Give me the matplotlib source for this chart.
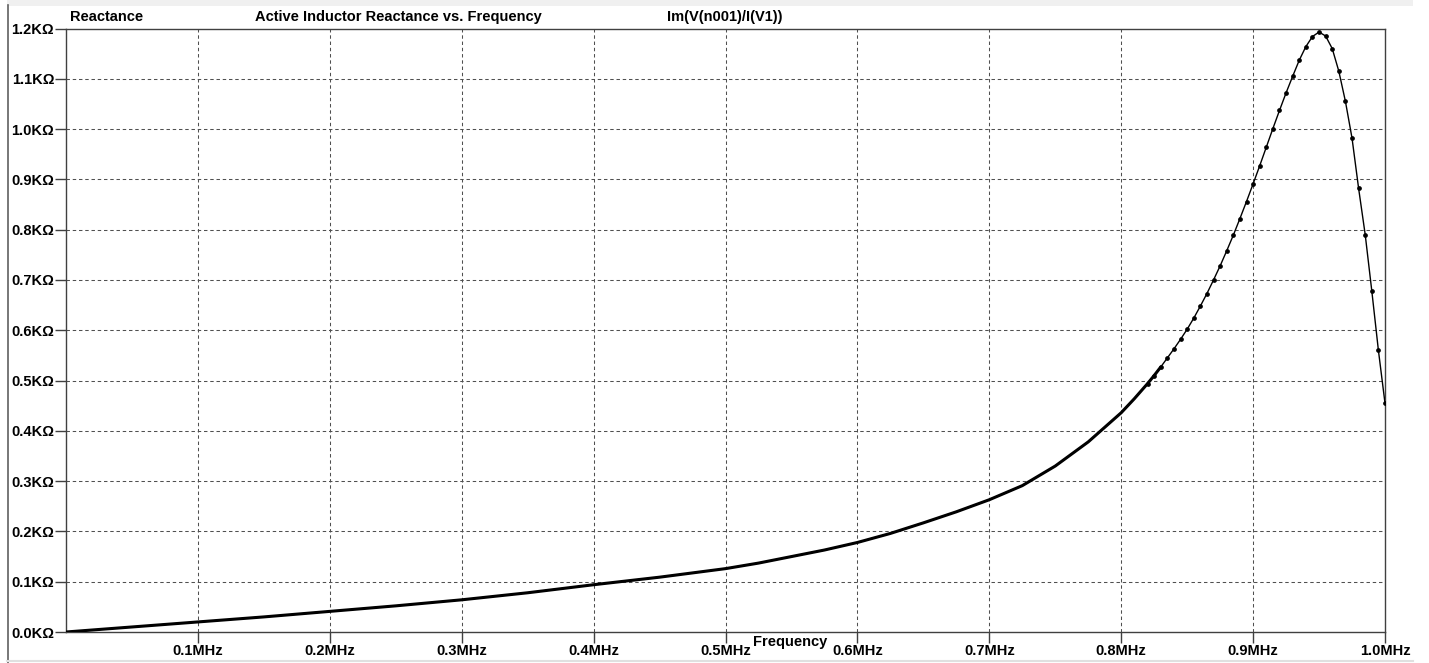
import matplotlib
matplotlib.use("Agg")
import matplotlib.pyplot as plt
from matplotlib.lines import Line2D
from matplotlib.patches import Rectangle
from matplotlib.ticker import FixedLocator, FixedFormatter

# ---- data ----
freq_mhz = [0.0, 0.05, 0.10, 0.15, 0.20, 0.25, 0.30, 0.35, 0.40, 0.45,
            0.50, 0.525, 0.55, 0.575, 0.60, 0.625, 0.65, 0.675, 0.70, 0.725,
            0.75, 0.775, 0.80, 0.805, 0.81, 0.815, 0.82, 0.825, 0.83, 0.835,
            0.84, 0.845, 0.85, 0.855, 0.86, 0.865, 0.87, 0.875, 0.88, 0.885,
            0.89, 0.895, 0.90, 0.905, 0.91, 0.915, 0.92, 0.925, 0.93, 0.935,
            0.94, 0.945, 0.95, 0.955, 0.96, 0.965, 0.97, 0.975, 0.98, 0.985,
            0.99, 0.995, 1.00]
reactance_k = [0.000, 0.010, 0.020, 0.030, 0.041, 0.052, 0.064, 0.078, 0.094, 0.109,
               0.126, 0.137, 0.150, 0.163, 0.178, 0.196, 0.217, 0.239, 0.263, 0.291,
               0.330, 0.378, 0.436, 0.450, 0.464, 0.479, 0.494, 0.510, 0.527, 0.545,
               0.563, 0.582, 0.602, 0.624, 0.648, 0.673, 0.700, 0.728, 0.758, 0.789,
               0.822, 0.856, 0.891, 0.927, 0.964, 1.001, 1.037, 1.072, 1.105, 1.137,
               1.164, 1.184, 1.193, 1.185, 1.160, 1.115, 1.055, 0.982, 0.882, 0.790,
               0.678, 0.560, 0.455]

x_ticks = [0.1, 0.2, 0.3, 0.4, 0.5, 0.6, 0.7, 0.8, 0.9, 1.0]
x_tick_labels = ["0.1MHz", "0.2MHz", "0.3MHz", "0.4MHz", "0.5MHz",
                 "0.6MHz", "0.7MHz", "0.8MHz", "0.9MHz", "1.0MHz"]
y_ticks = [0.0, 0.1, 0.2, 0.3, 0.4, 0.5, 0.6, 0.7, 0.8, 0.9, 1.0, 1.1, 1.2]
y_tick_labels = ["0.0KΩ", "0.1KΩ", "0.2KΩ", "0.3KΩ", "0.4KΩ", "0.5KΩ", "0.6KΩ",
                 "0.7KΩ", "0.8KΩ", "0.9KΩ", "1.0KΩ", "1.1KΩ", "1.2KΩ"]

W, H = 1429, 663
plt.rcParams['font.family'] = ['Liberation Sans', 'DejaVu Sans']
FS = 10.5

fig = plt.figure(figsize=(W / 100, H / 100), dpi=100)
fig.patch.set_facecolor("white")

ax_left, ax_right, ax_top, ax_bot = 66, 1385, 28.5, 632
ax = fig.add_axes([ax_left / W, (H - ax_bot) / H,
                   (ax_right - ax_left) / W, (ax_bot - ax_top) / H])
ax.set_xlim(0, 1.0)
ax.set_ylim(0, 1.2)

spine_col = "#404040"
for s in ax.spines.values():
    s.set_color(spine_col)
    s.set_linewidth(1.0)

ax.xaxis.set_major_locator(FixedLocator(x_ticks))
ax.xaxis.set_major_formatter(FixedFormatter(x_tick_labels))
ax.yaxis.set_major_locator(FixedLocator(y_ticks))
ax.yaxis.set_major_formatter(FixedFormatter(y_tick_labels))
ax.tick_params(axis='x', direction='out', length=8, width=1.0, color=spine_col,
               pad=0.5, labelsize=FS)
ax.tick_params(axis='y', direction='out', length=8, width=1.0, color=spine_col,
               pad=0.5, labelsize=FS)
for lab in ax.get_xticklabels() + ax.get_yticklabels():
    lab.set_fontweight('bold')

# grid (skip lines on the borders)
grid_kw = dict(color="#505050", linewidth=0.75, linestyle=(0, (3.3, 2.7)), zorder=1)
for xv in x_ticks[:-1]:
    ax.axvline(xv, **grid_kw)
for yv in y_ticks[1:-1]:
    ax.axhline(yv, **grid_kw)

# curve: dense part drawn thick, steep part thin with sample dots
n_thick = sum(1 for f in freq_mhz if f <= 0.83)
ax.plot(freq_mhz[:n_thick], reactance_k[:n_thick], color="black", linewidth=2.2,
        solid_capstyle='round', solid_joinstyle='round', zorder=3)
ax.plot(freq_mhz, reactance_k, color="black", linewidth=1.0, zorder=3)
n_dot_start = sum(1 for f in freq_mhz if f < 0.82)
ax.plot(freq_mhz[n_dot_start:], reactance_k[n_dot_start:], linestyle='none',
        marker='o', markersize=2.4, color="black", zorder=4)

# header texts
ty = 1 - 17 / H
fig.text(70 / W, ty, "Reactance", fontsize=FS, fontweight='bold', va='center', ha='left')
fig.text(255 / W, ty, "Active Inductor Reactance vs. Frequency", fontsize=FS,
         fontweight='bold', va='center', ha='left')
fig.text(667 / W, ty, "Im(V(n001)/I(V1))", fontsize=FS, fontweight='bold',
         va='center', ha='left')
fig.text(790 / W, 1 - 642 / H, "Frequency", fontsize=FS, fontweight='bold',
         va='center', ha='center')

# window frame decorations
fig.add_artist(Rectangle((7 / W, 1 - 6 / H), (1413 - 7) / W, 6 / H,
                         transform=fig.transFigure, facecolor="#f0f0f0",
                         edgecolor='none'))
fig.add_artist(Line2D([7.5 / W, 7.5 / W], [0, 1 - 5 / H], transform=fig.transFigure,
                      color="#606060", linewidth=1.2))
fig.add_artist(Line2D([7 / W, 1413 / W], [1 - 660.5 / H, 1 - 660.5 / H],
                      transform=fig.transFigure, color="#e0e0e0", linewidth=1.5))

fig.savefig("out.png", dpi=100, facecolor="white")
